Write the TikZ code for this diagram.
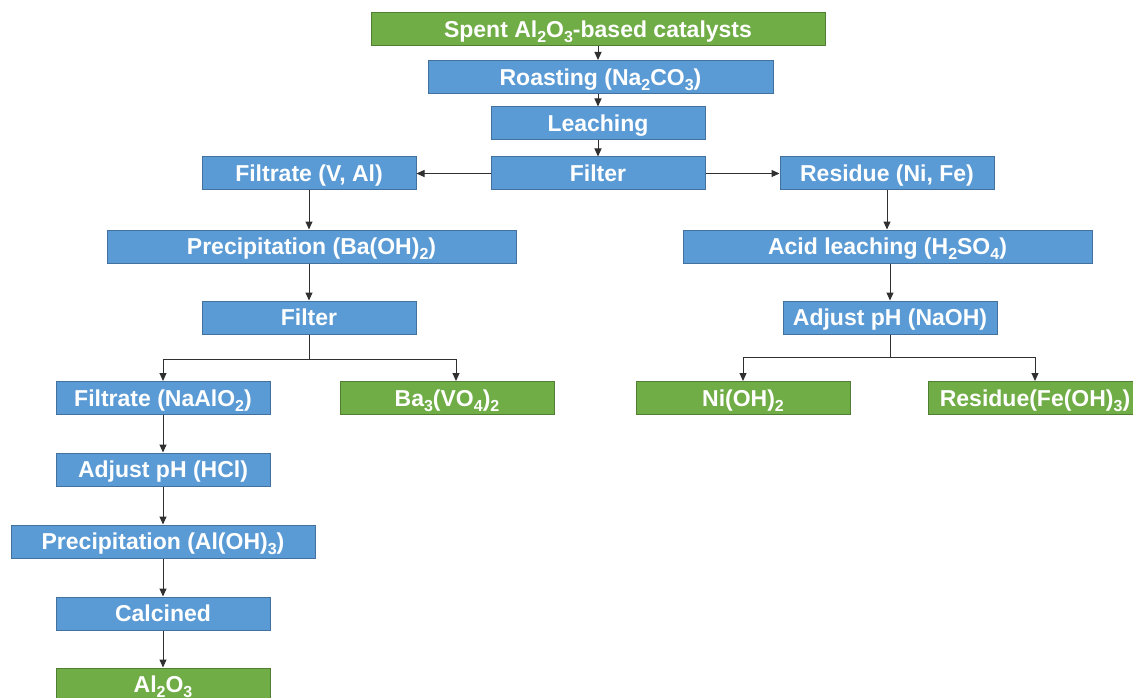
\documentclass[tikz,border=0pt]{standalone}
\usepackage{fontspec}
\setmainfont{Liberation Sans}
\usetikzlibrary{arrows.meta}
\definecolor{stepblue}{HTML}{5B9BD5}
\definecolor{stepblueline}{HTML}{41719C}
\definecolor{prodgreen}{HTML}{70AD47}
\definecolor{prodgreenline}{HTML}{507E32}
\definecolor{flowline}{HTML}{303030}
% chemical subscript, set low as in the figure
\newcommand{\chsub}[1]{\raisebox{-5pt}{\fontsize{16}{16}\selectfont #1}}

\begin{document}
\begin{tikzpicture}[x=1pt, y=-1pt, >={Triangle[length=8pt,width=7pt]},
  proc/.style={draw=stepblueline, fill=stepblue, line width=1pt, text=white,
    font=\bfseries\fontsize{23}{27}\selectfont, minimum height=33pt,
    inner sep=0pt, text height=21pt, text depth=4.5pt},
  prod/.style={proc, draw=prodgreenline, fill=prodgreen},
  flow/.style={->, draw=flowline, line width=1pt}]

\useasboundingbox (0,0) rectangle (1133,698);

% --- layout helpers ---
\def\M{598}   % main column x
\def\L{309}   % left column x
\def\R{887}   % right column x
\def\LL{163}  % lower-left column x

% --- main trunk ---
\node[prod, minimum width=454] (spent) at (\M,29.5) {Spent Al\chsub{2}O\chsub{3}-based catalysts};
\node[proc, minimum width=345] (roast) at (600.5,77) {Roasting (Na\chsub{2}CO\chsub{3})};
\node[proc, minimum width=214] (leach) at (\M,123.5) {Leaching};
\node[proc, minimum width=214] (filtA) at (\M,173.5) {Filter};

% --- left branch ---
\node[proc, minimum width=214] (filtrVA) at (\L,173.5) {Filtrate (V, Al)};
\node[proc, minimum width=409] (precBa) at (311.5,246.5) {Precipitation (Ba(OH)\chsub{2})};
\node[proc, minimum width=214] (filtB) at (\L,317.5) {Filter};
\node[proc, minimum width=214] (filtrNa) at (\LL,398) {Filtrate (NaAlO\chsub{2})};
\node[prod, minimum width=214] (baVO) at (447,398) {Ba\chsub{3}(VO\chsub{4})\chsub{2}};
\node[proc, minimum width=214] (adjHCl) at (\LL,469.5) {Adjust pH (HCl)};
\node[proc, minimum width=304] (precAl) at (\LL,541.5) {Precipitation (Al(OH)\chsub{3})};
\node[proc, minimum width=214] (calc) at (\LL,613.5) {Calcined};
\node[prod, minimum width=214] (alox) at (\LL,684.5) {Al\chsub{2}O\chsub{3}};

% --- right branch ---
\node[proc, minimum width=214] (resNiFe) at (\R,173.5) {Residue (Ni, Fe)};
\node[proc, minimum width=409] (acid) at (887.5,246.5) {Acid leaching (H\chsub{2}SO\chsub{4})};
\node[proc, minimum width=214] (adjNaOH) at (890,317.5) {Adjust pH (NaOH)};
\node[prod, minimum width=214] (niOH) at (743,398) {Ni(OH)\chsub{2}};
\node[prod, minimum width=214] (feOH) at (1035,398) {Residue(Fe(OH)\chsub{3})};

% --- connectors ---
\draw[flow] (spent.south) -- (spent.south |- roast.north);
\draw[flow] (leach.north |- roast.south) -- (leach.north);
\draw[flow] (filtA) -- (filtrVA);
\draw[flow] (filtA) -- (resNiFe);
\draw[flow] (filtrVA.south) -- (filtrVA.south |- precBa.north);
\draw[flow] (filtB.north |- precBa.south) -- (filtB.north);
\draw[flow] (resNiFe.south) -- (resNiFe.south |- acid.north);
\draw[flow] (adjNaOH.north |- acid.south) -- (adjNaOH.north);
\foreach \a/\b in {leach/filtA, filtrNa/adjHCl, adjHCl/precAl, precAl/calc, calc/alox}
  \draw[flow] (\a) -- (\b);

% --- forks ---
\draw[flow] (filtB.south) -- ++(0,25) -| (filtrNa.north);
\draw[flow] (filtB.south) -- ++(0,25) -| ([xshift=9pt]baVO.north);
\draw[flow] (adjNaOH.south) -- ++(0,23) -| (niOH.north);
\draw[flow] (adjNaOH.south) -- ++(0,23) -| (feOH.north);

\end{tikzpicture}
\end{document}
